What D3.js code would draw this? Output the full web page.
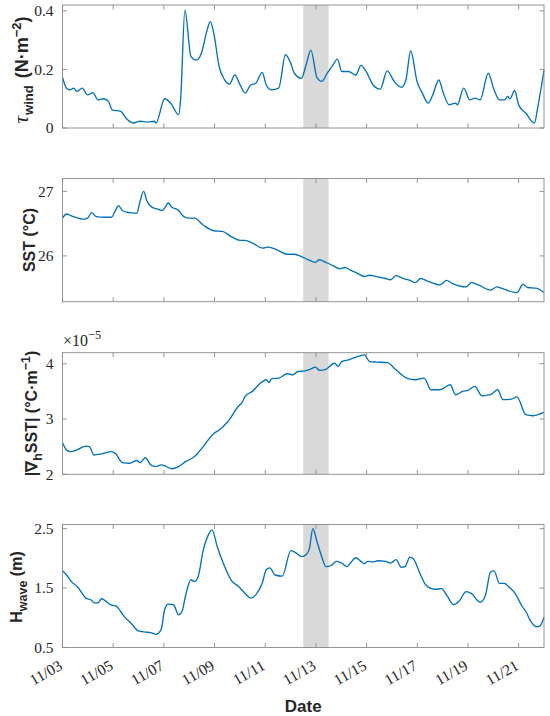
<!DOCTYPE html>
<html><head><meta charset="utf-8">
<script src="https://cdn.jsdelivr.net/npm/d3@7"></script>
<style>body{margin:0;background:#fff}svg{display:block}</style>
</head><body>
<svg id="c" width="550" height="716"></svg>
<script>
// ---------------- DATA ----------------
const startDay = Date.UTC(2023, 10, 3);
const endDay = Date.UTC(2023, 10, 22);
const shadeDays = [9.5, 10.5];               // days since 11/03
const xTickDays = [0, 2, 4, 6, 8, 10, 12, 14, 16, 18];
const xTickLabels = ["11/03", "11/05", "11/07", "11/09", "11/11", "11/13", "11/15", "11/17", "11/19", "11/21"];

const windDays = [0, .16, .30, .44, .57, .78, .99, 1.20, 1.40, 1.61, 1.82, 1.96, 2.30, 2.51, 2.79, 3.06, 3.34, 3.62, 3.69, 4.03, 4.31, 4.58, 4.66, 4.83, 5.07, 5.28, 5.48, 5.69, 5.83, 5.97, 6.18, 6.38, 6.59, 6.80, 7.01, 7.21, 7.42, 7.63, 7.88, 8.04, 8.25, 8.53, 8.80, 9.01, 9.15, 9.43, 9.61, 9.80, 10.05, 10.23, 10.46, 10.67, 10.85, 11.02, 11.29, 11.57, 11.78, 11.98, 12.26, 12.54, 12.81, 13.09, 13.37, 13.55, 13.74, 13.99, 14.20, 14.43, 14.61, 14.85, 15.03, 15.26, 15.51, 15.58, 15.83, 16.07, 16.27, 16.48, 16.80, 17.03, 17.24, 17.45, 17.56, 17.66, 17.84, 18.00, 18.28, 18.62, 18.76, 19.0];
const windVals = [.173, .136, .13, .136, .125, .136, .113, .121, .096, .10, .09, .062, .057, .033, .017, .023, .02, .023, .017, .10, .08, .045, .096, .402, .244, .232, .255, .329, .363, .323, .21, .167, .15, .181, .147, .119, .147, .153, .19, .147, .13, .136, .25, .22, .187, .17, .215, .266, .17, .159, .189, .215, .235, .193, .193, .181, .214, .193, .147, .133, .195, .159, .139, .164, .263, .159, .119, .085, .113, .164, .119, .079, .085, .079, .136, .096, .102, .096, .187, .13, .096, .096, .108, .10, .128, .079, .051, .017, .074, .198];

const sstDays = [0, .16, .30, .50, .85, .99, 1.15, 1.33, 1.68, 1.93, 2.10, 2.21, 2.37, 2.65, 2.93, 3.06, 3.20, 3.34, 3.51, 3.76, 3.93, 4.03, 4.17, 4.31, 4.58, 4.79, 5.00, 5.21, 5.55, 5.97, 6.31, 6.66, 7.01, 7.21, 7.49, 7.90, 8.11, 8.46, 8.87, 9.15, 9.43, 9.70, 9.98, 10.14, 10.39, 10.67, 10.95, 11.15, 11.36, 11.64, 11.91, 12.12, 12.40, 12.75, 12.95, 13.16, 13.44, 13.71, 13.92, 14.13, 14.40, 14.89, 15.16, 15.37, 15.93, 16.13, 16.41, 16.89, 17.14, 17.31, 17.93, 18.17, 18.35, 18.69, 19.0];
const sstVals = [26.585, 26.65, 26.63, 26.60, 26.57, 26.585, 26.67, 26.61, 26.60, 26.60, 26.715, 26.78, 26.70, 26.67, 26.66, 26.845, 27.0, 26.845, 26.76, 26.725, 26.705, 26.74, 26.82, 26.76, 26.705, 26.61, 26.585, 26.585, 26.48, 26.39, 26.38, 26.30, 26.24, 26.24, 26.20, 26.12, 26.135, 26.095, 26.025, 26.025, 25.99, 25.94, 25.90, 25.94, 25.90, 25.85, 25.80, 25.82, 25.78, 25.73, 25.68, 25.70, 25.68, 25.65, 25.63, 25.695, 25.65, 25.62, 25.585, 25.65, 25.61, 25.55, 25.62, 25.575, 25.52, 25.585, 25.55, 25.47, 25.52, 25.50, 25.43, 25.56, 25.51, 25.50, 25.43];

// |grad SST| in units of 1e-5 °C/m
const gradDays = [0, .16, .30, .57, .92, 1.06, 1.24, 1.54, 1.93, 2.10, 2.37, 2.65, 2.93, 3.06, 3.27, 3.48, 3.69, 3.89, 4.10, 4.31, 4.58, 4.86, 5.21, 5.55, 5.97, 6.18, 6.52, 6.94, 7.07, 7.21, 7.49, 7.84, 8.04, 8.15, 8.25, 8.53, 8.87, 9.08, 9.29, 9.57, 9.77, 9.98, 10.14, 10.39, 10.74, 10.88, 11.02, 11.29, 11.64, 11.91, 12.12, 12.40, 12.81, 13.16, 13.58, 13.92, 14.27, 14.54, 14.89, 15.30, 15.51, 15.79, 16.00, 16.27, 16.55, 16.89, 17.17, 17.38, 17.72, 17.93, 18.28, 18.55, 18.76, 19.0];
const gradVals = [2.57, 2.44, 2.41, 2.44, 2.51, 2.50, 2.35, 2.37, 2.41, 2.37, 2.21, 2.20, 2.25, 2.21, 2.30, 2.17, 2.14, 2.17, 2.14, 2.10, 2.14, 2.23, 2.32, 2.50, 2.74, 2.80, 2.95, 3.23, 3.29, 3.41, 3.50, 3.66, 3.71, 3.66, 3.73, 3.74, 3.82, 3.80, 3.86, 3.87, 3.90, 3.94, 3.88, 3.90, 4.01, 3.95, 4.04, 4.07, 4.13, 4.16, 4.04, 4.03, 4.02, 3.89, 3.74, 3.71, 3.74, 3.53, 3.53, 3.62, 3.44, 3.50, 3.52, 3.59, 3.42, 3.44, 3.53, 3.35, 3.36, 3.40, 3.08, 3.06, 3.08, 3.12];

const waveDays = [0, .16, .37, .57, .78, .92, 1.13, 1.27, 1.40, 1.54, 1.68, 1.89, 2.10, 2.44, 2.72, 2.99, 3.27, 3.48, 3.69, 3.89, 4.03, 4.17, 4.38, 4.58, 4.72, 4.86, 5.07, 5.21, 5.35, 5.55, 5.76, 5.90, 6.11, 6.38, 6.66, 6.94, 7.21, 7.42, 7.63, 7.88, 8.04, 8.18, 8.39, 8.67, 9.01, 9.18, 9.43, 9.63, 9.74, 9.88, 10.05, 10.26, 10.39, 10.60, 10.81, 11.02, 11.22, 11.36, 11.57, 11.78, 11.91, 12.05, 12.26, 12.44, 12.75, 12.95, 13.16, 13.37, 13.51, 13.71, 13.85, 14.13, 14.34, 14.68, 14.96, 15.16, 15.44, 15.65, 15.93, 16.13, 16.48, 16.69, 16.89, 17.03, 17.24, 17.45, 17.59, 17.86, 18.14, 18.28, 18.48, 18.69, 18.83, 19.0];
const waveVals = [1.79, 1.72, 1.60, 1.53, 1.41, 1.33, 1.30, 1.25, 1.25, 1.32, 1.29, 1.22, 1.20, 1.02, 0.90, 0.78, 0.76, 0.75, 0.72, 0.80, 1.14, 1.23, 1.22, 1.05, 1.11, 1.38, 1.64, 1.61, 1.69, 2.13, 2.40, 2.48, 2.19, 1.88, 1.63, 1.53, 1.41, 1.33, 1.39, 1.58, 1.81, 1.84, 1.72, 1.70, 2.13, 2.10, 2.03, 2.07, 2.16, 2.50, 2.27, 1.99, 1.86, 1.88, 1.95, 1.92, 1.86, 1.92, 2.01, 1.95, 1.91, 1.95, 1.94, 1.96, 1.95, 1.92, 1.98, 1.85, 1.86, 2.02, 1.99, 1.72, 1.55, 1.48, 1.49, 1.38, 1.22, 1.28, 1.44, 1.41, 1.26, 1.38, 1.77, 1.79, 1.58, 1.58, 1.53, 1.41, 1.19, 1.11, 0.94, 0.85, 0.86, 1.01];

const windTicks = [0, 0.2, 0.4], windTickLabels = ["0", "0.2", "0.4"], windDomain = [0, 0.42];
const sstTicks = [26, 27], sstTickLabels = ["26", "27"], sstDomain = [25.29, 27.2];
const gradTicks = [2, 3, 4], gradTickLabels = ["2", "3", "4"], gradDomain = [2, 4.2];
const waveTicks = [0.5, 1.5, 2.5], waveTickLabels = ["0.5", "1.5", "2.5"], waveDomain = [0.5, 2.57];

// ---------------- LAYOUT ----------------
const L = 62.5, R = 544;
const panels = [
  {top: 5,     bottom: 128,   days: windDays, vals: windVals, ticks: windTicks, labels: windTickLabels, domain: windDomain, labelX: 28, labelY: 70, key: "wind"},
  {top: 178.5, bottom: 301.7, days: sstDays,  vals: sstVals,  ticks: sstTicks,  labels: sstTickLabels,  domain: sstDomain,  labelX: 35, labelY: 240, key: "sst"},
  {top: 352.7, bottom: 474.3, days: gradDays, vals: gradVals, ticks: gradTicks, labels: gradTickLabels, domain: gradDomain, labelX: 36.5, labelY: 413.5, key: "grad"},
  {top: 524.5, bottom: 647.5, days: waveDays, vals: waveVals, ticks: waveTicks, labels: waveTickLabels, domain: waveDomain, labelX: 22, labelY: 587, key: "wave"}
];

const axisCol = "#8a8a8a", textCol = "#262626", lineCol = "#0072BD", shadeCol = "#d9d9d9";
const serif = "'Liberation Serif','DejaVu Serif',serif";
const sans = "'Liberation Sans',Arial,sans-serif";
const tickLen = 4.5;

const svg = d3.select("#c");
const toDate = d => new Date(startDay + d * 864e5);
const x = d3.scaleUtc().domain([new Date(startDay), new Date(endDay)]).range([L, R]);

panels.forEach((p, i) => {
  const y = d3.scaleLinear().domain(p.domain).range([p.bottom, p.top]);
  const g = svg.append("g");

  // shaded interval
  g.append("rect")
    .attr("x", x(toDate(shadeDays[0]))).attr("y", p.top)
    .attr("width", x(toDate(shadeDays[1])) - x(toDate(shadeDays[0])))
    .attr("height", p.bottom - p.top)
    .attr("fill", shadeCol);

  // line
  const pts = p.days.map((d, k) => [toDate(d), p.vals[k]]);
  g.append("path")
    .datum(pts)
    .attr("fill", "none").attr("stroke", lineCol).attr("stroke-width", 1.35)
    .attr("stroke-linejoin", "round")
    .attr("d", d3.line().x(d => x(d[0])).y(d => y(d[1])).curve(d3.curveMonotoneX));

  // frame
  g.append("rect").attr("x", L).attr("y", p.top).attr("width", R - L).attr("height", p.bottom - p.top)
    .attr("fill", "none").attr("stroke", axisCol).attr("stroke-width", 0.9);

  // x ticks (inward, bottom & top)
  xTickDays.forEach(d => {
    const xx = x(toDate(d));
    g.append("line").attr("x1", xx).attr("x2", xx).attr("y1", p.bottom).attr("y2", p.bottom - tickLen).attr("stroke", axisCol).attr("stroke-width", 0.9);
    g.append("line").attr("x1", xx).attr("x2", xx).attr("y1", p.top).attr("y2", p.top + tickLen).attr("stroke", axisCol).attr("stroke-width", 0.9);
  });
  // y ticks (inward, left & right) and labels
  p.ticks.forEach((t, k) => {
    const yy = y(t);
    g.append("line").attr("x1", L).attr("x2", L + tickLen).attr("y1", yy).attr("y2", yy).attr("stroke", axisCol).attr("stroke-width", 0.9);
    g.append("line").attr("x1", R).attr("x2", R - tickLen).attr("y1", yy).attr("y2", yy).attr("stroke", axisCol).attr("stroke-width", 0.9);
    g.append("text").attr("x", L - 9).attr("y", yy).attr("dy", "0.34em")
      .attr("text-anchor", "end").attr("font-family", serif).attr("font-size", 15.5)
      .attr("fill", textCol).text(p.labels[k]);
  });

  // y label
  const lab = svg.append("text")
    .attr("transform", `translate(${p.labelX},${p.labelY}) rotate(-90)`)
    .attr("text-anchor", "middle").attr("font-family", sans).attr("font-weight", "bold")
    .attr("font-size", 16).attr("fill", textCol);
  if (p.key === "wind") {
    lab.attr("font-size", 18);
    lab.append("tspan").attr("font-family", serif).attr("font-style", "italic").attr("font-weight", "normal").attr("font-size", 21).text("τ");
    lab.append("tspan").attr("font-size", 13).attr("dx", 1).attr("dy", 5).text("wind");
    lab.append("tspan").attr("dx", 2).attr("dy", -5).text(" (N·m");
    lab.append("tspan").attr("font-size", 13).attr("dy", -7).text("−2");
    lab.append("tspan").attr("dy", 7).text(")");
  } else if (p.key === "sst") {
    lab.append("tspan").text("SST (°C)");
  } else if (p.key === "grad") {
    lab.append("tspan").text("|∇");
    lab.append("tspan").attr("font-size", 12.5).attr("dy", 5).text("h");
    lab.append("tspan").attr("dy", -5).text("SST| (°C·m");
    lab.append("tspan").attr("font-size", 12.5).attr("dy", -7).text("−1");
    lab.append("tspan").attr("dy", 7).text(")");
  } else {
    lab.append("tspan").text("H");
    lab.append("tspan").attr("font-size", 12.5).attr("dy", 5).text("wave");
    lab.append("tspan").attr("dy", -5).text(" (m)");
  }

  // exponent marker for gradient panel
  if (p.key === "grad") {
    const ex = svg.append("text").attr("x", L + 0.5).attr("y", p.top - 7)
      .attr("font-family", serif).attr("font-size", 16).attr("fill", textCol);
    ex.append("tspan").text("×10");
    ex.append("tspan").attr("font-size", 12.5).attr("dy", -7).text("−5");
  }

  // x tick labels on last panel
  if (i === panels.length - 1) {
    xTickDays.forEach((d, k) => {
      const xx = x(toDate(d));
      svg.append("text")
        .attr("transform", `translate(${xx + 1},${p.bottom + 21}) rotate(-30)`)
        .attr("text-anchor", "end").attr("font-family", serif).attr("font-size", 15.5)
        .attr("fill", textCol).text(xTickLabels[k]);
    });
    svg.append("text").attr("x", (L + R) / 2).attr("y", 712)
      .attr("text-anchor", "middle").attr("font-family", sans).attr("font-weight", "bold")
      .attr("font-size", 17).attr("fill", textCol).text("Date");
  }
});
</script>
</body></html>
